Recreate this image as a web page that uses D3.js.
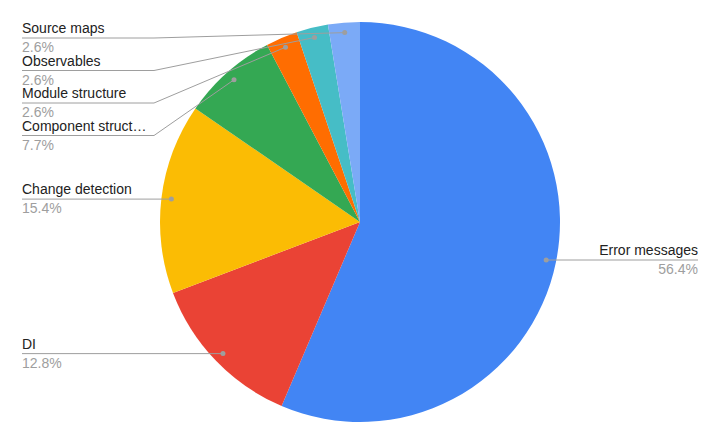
<!DOCTYPE html>
<html>
<head>
<meta charset="utf-8">
<script src="https://cdn.jsdelivr.net/npm/d3@7"></script>
<style>
  body { margin: 0; background: #fff; }
  text { font-family: "Liberation Sans", Arial, sans-serif; font-size: 14px; }
</style>
</head>
<body>
<svg id="chart" width="720" height="445"></svg>
<script>
// responses per topic, clockwise from 12 o'clock
var categories = ["Error messages", "DI", "Change detection", "Component structure",
                  "Module structure", "Observables", "Source maps"];
var counts = [22, 5, 6, 3, 1, 1, 1];
var colors = ["#4285f4", "#ea4335", "#fbbc04", "#34a853", "#ff6d01", "#46bdc6", "#7baaf7"];

var W = 720, H = 445;
var cx = 360, cy = 222, R = 200;
var leftX = 22, rightX = 698, elbowX = 154, maxLabel = 126;
var rowGap = 32.5, minLineY = 38;

var svg = d3.select("#chart");
var total = d3.sum(counts);
var pct = d3.format(".1%");

var data = categories.map(function(c, i){
    return {name: c, value: counts[i], color: colors[i]};
});

var pie = d3.pie().sort(null).value(function(d){ return d.value; });
var arcs = pie(data);
var arc = d3.arc().innerRadius(0).outerRadius(R);
var dotArc = d3.arc().innerRadius(R * 0.95).outerRadius(R * 0.95);

var g = svg.append("g").attr("transform", "translate(" + cx + "," + cy + ")");
g.selectAll("path.slice")
    .data(arcs)
    .enter()
    .append("path")
    .attr("class", "slice")
    .attr("d", arc)
    .attr("fill", function(d){ return d.data.color; });

// label anchor points
arcs.forEach(function(a){
    var c = dotArc.centroid(a);
    a.dx = cx + c[0];
    a.dy = cy + c[1];
    a.right = (a.startAngle + a.endAngle) / 2 < Math.PI;
});

// stack left labels top to bottom so they don't collide
var left = arcs.filter(function(a){ return !a.right; })
    .sort(function(a, b){ return a.dy - b.dy; });
var prev = -Infinity;
left.forEach(function(a){
    a.ly = Math.max(a.dy, prev + rowGap, minLineY);
    prev = a.ly;
});
arcs.filter(function(a){ return a.right; }).forEach(function(a){ a.ly = a.dy; });

var lab = svg.append("g");
arcs.forEach(function(a){
    var pts;
    if(a.right){
        pts = [[rightX, a.ly], [a.dx, a.dy]];
    }else{
        pts = a.ly === a.dy ? [[leftX, a.ly], [a.dx, a.dy]]
                            : [[leftX, a.ly], [elbowX, a.ly], [a.dx, a.dy]];
    }
    lab.append("path")
        .attr("d", d3.line()(pts))
        .attr("fill", "none")
        .attr("stroke", "#9e9e9e")
        .attr("stroke-width", 1);
    lab.append("circle")
        .attr("cx", a.dx)
        .attr("cy", a.dy)
        .attr("r", 2.5)
        .attr("fill", "#9e9e9e");

    var tx = a.right ? rightX : leftX;
    var anchor = a.right ? "end" : "start";
    var t = lab.append("text")
        .attr("x", tx)
        .attr("y", a.ly - 5)
        .attr("text-anchor", anchor)
        .attr("fill", "#222")
        .text(a.data.name);
    // truncate long names like the original does
    var s = a.data.name;
    while(t.node().getComputedTextLength() > maxLabel && s.length > 1){
        s = s.slice(0, -1);
        t.text(s.trim() + "\u2026");
    }
    lab.append("text")
        .attr("x", tx)
        .attr("y", a.ly + 14)
        .attr("text-anchor", anchor)
        .attr("fill", "#9e9e9e")
        .text(pct(a.data.value / total));
});
</script>
</body>
</html>
